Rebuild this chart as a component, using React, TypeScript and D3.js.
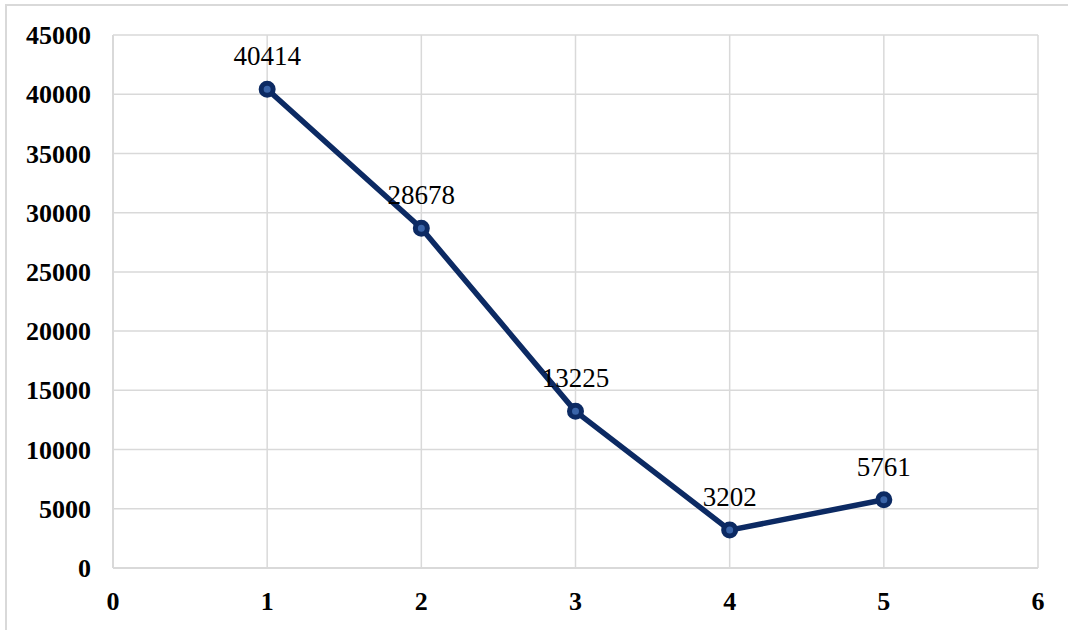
import * as d3 from 'd3'
import { useEffect, useRef } from 'react'

const xValues = [1, 2, 3, 4, 5]
const yValues = [40414, 28678, 13225, 3202, 5761]
const xTicks = [0, 1, 2, 3, 4, 5, 6]
const yTicks = [0, 5000, 10000, 15000, 20000, 25000, 30000, 35000, 40000, 45000]

export default function App() {
  const ref = useRef<HTMLDivElement | null>(null)

  useEffect(() => {
    const width = 1068
    const height = 630
    const marginTop = 35
    const marginRight = 30
    const marginBottom = 62
    const marginLeft = 113
    const navy = '#0c2a63'
    const grid = '#d9d9d9'
    const font = "'Liberation Serif', 'DejaVu Serif', serif"

    const x = d3.scaleLinear().domain([0, 6]).range([marginLeft, width - marginRight])
    const y = d3
      .scaleLinear()
      .domain([0, 45000])
      .range([height - marginBottom, marginTop])

    const svg = d3
      .create('svg')
      .attr('width', width)
      .attr('height', height)
      .attr('viewBox', [0, 0, width, height])
      .style('display', 'block')
      .style('background', '#fff')
      .style('font-family', font)

    // outer chart border (bottom/right run off the picture)
    svg
      .append('rect')
      .attr('x', 6)
      .attr('y', 5)
      .attr('width', width + 20)
      .attr('height', height + 20)
      .attr('fill', 'none')
      .attr('stroke', grid)
      .attr('stroke-width', 2)

    // gridlines
    svg
      .append('g')
      .selectAll('line')
      .data(yTicks)
      .join('line')
      .attr('x1', x(0))
      .attr('x2', x(6))
      .attr('y1', (d) => y(d))
      .attr('y2', (d) => y(d))
      .attr('stroke', grid)
      .attr('stroke-width', (d) => (d === 0 ? 2 : 1.5))

    svg
      .append('g')
      .selectAll('line')
      .data(xTicks)
      .join('line')
      .attr('x1', (d) => x(d))
      .attr('x2', (d) => x(d))
      .attr('y1', y(0))
      .attr('y2', y(45000))
      .attr('stroke', grid)
      .attr('stroke-width', (d) => (d === 0 ? 2 : 1.5))

    // Y labels
    svg
      .append('g')
      .selectAll('text')
      .data(yTicks)
      .join('text')
      .attr('x', 91)
      .attr('y', (d) => y(d))
      .attr('dy', '0.35em')
      .attr('text-anchor', 'end')
      .style('font-weight', 'bold')
      .style('font-size', '26px')
      .attr('fill', '#000')
      .text((d) => String(d))

    // X labels
    svg
      .append('g')
      .selectAll('text')
      .data(xTicks)
      .join('text')
      .attr('x', (d) => x(d))
      .attr('y', 610)
      .attr('text-anchor', 'middle')
      .style('font-weight', 'bold')
      .style('font-size', '26px')
      .attr('fill', '#000')
      .text((d) => String(d))

    const pts = xValues.map((v, i) => [v, yValues[i]] as [number, number])

    const line = d3
      .line<[number, number]>()
      .x((d) => x(d[0]))
      .y((d) => y(d[1]))

    svg
      .append('path')
      .datum(pts)
      .attr('d', line)
      .attr('fill', 'none')
      .attr('stroke', navy)
      .attr('stroke-width', 5.5)
      .attr('stroke-linejoin', 'round')

    svg
      .append('g')
      .selectAll('circle')
      .data(pts)
      .join('circle')
      .attr('cx', (d) => x(d[0]))
      .attr('cy', (d) => y(d[1]))
      .attr('r', 6)
      .attr('fill', '#3a64a8')
      .attr('stroke', navy)
      .attr('stroke-width', 5)

    // data labels
    svg
      .append('g')
      .selectAll('text')
      .data(pts)
      .join('text')
      .attr('x', (d) => x(d[0]))
      .attr('y', (d) => y(d[1]) - 24)
      .attr('text-anchor', 'middle')
      .style('font-size', '27px')
      .attr('fill', '#000')
      .text((d) => String(d[1]))

    if (ref.current) {
      ref.current.innerHTML = ''
      ref.current.appendChild(svg.node()!)
    }
  }, [])

  return <div ref={ref} style={{ position: 'absolute', left: 0, top: 0 }} />
}
